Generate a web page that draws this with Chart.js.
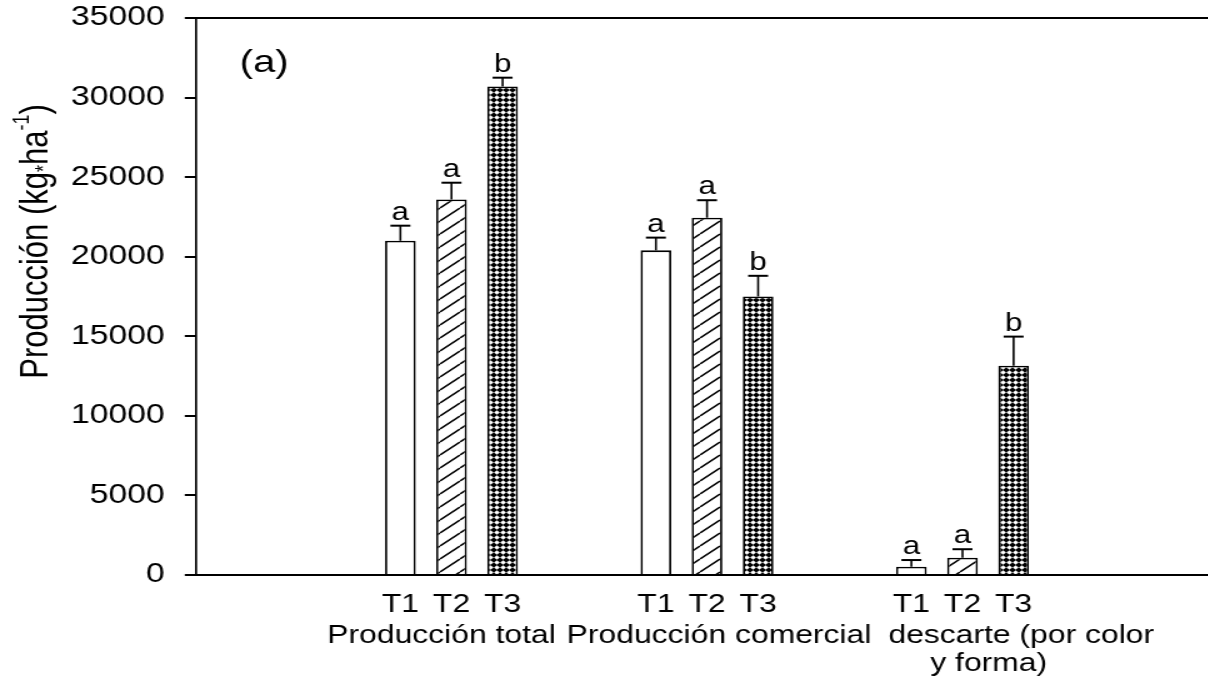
<!DOCTYPE html>
<html>
<head>
<meta charset="utf-8">
<script src="https://cdn.jsdelivr.net/npm/chart.js@4.4.1/dist/chart.umd.min.js"></script>
<style>
  html, body { margin: 0; padding: 0; background: #fff; overflow: hidden; width: 1208px; height: 678px; }
  #wrap { position: absolute; left: 0; top: 0; width: 980px; height: 678px;
          transform: scaleX(1.25); transform-origin: 0 0; }
</style>
</head>
<body>
<div id="wrap"><canvas id="chart"></canvas></div>
<script>
// Groups on the x axis (empty slots pad both ends of the axis)
const categories = ['', 'Producción total', 'Producción comercial', ['descarte (por color', 'y forma)'], ''];
const treatments = ['T1', 'T2', 'T3'];

// Mean yield per treatment (kg/ha)
const t1Values = [null, 21000, 20400, 520, null];
const t2Values = [null, 23600, 22450, 1090, null];
const t3Values = [null, 30700, 17500, 13150, null];

// Standard error per treatment
const t1Errors = [null, 950, 800, 420, null];
const t2Errors = [null, 1050, 1100, 530, null];
const t3Errors = [null, 550, 1300, 1830, null];

// Significance letters
const t1Letters = [null, 'a', 'a', 'a', null];
const t2Letters = [null, 'a', 'a', 'a', null];
const t3Letters = [null, 'b', 'b', 'b', null];

const yTicks = [0, 5000, 10000, 15000, 20000, 25000, 30000, 35000];

const values = [t1Values, t2Values, t3Values];
const errors = [t1Errors, t2Errors, t3Errors];
const letters = [t1Letters, t2Letters, t3Letters];

const FONT = '"Liberation Sans", Arial, sans-serif';
Chart.defaults.font.family = FONT;
Chart.defaults.color = '#000';

// Fill for T2: single diagonal hatch
function diagonalHatch() {
  const w = 16, h = 13;
  const c = document.createElement('canvas');
  c.width = w; c.height = h;
  const g = c.getContext('2d');
  g.fillStyle = '#fff';
  g.fillRect(0, 0, w, h);
  g.strokeStyle = '#000';
  g.lineWidth = 1.5;
  g.beginPath();
  for (const dx of [-w, 0, w]) { g.moveTo(dx, h); g.lineTo(dx + w, 0); }
  g.stroke();
  return g.createPattern(c, 'repeat');
}

// Fill for T3: dense cross hatch (black with white diamonds)
function crossHatch() {
  const w = 5, h = 5;
  const c = document.createElement('canvas');
  c.width = w; c.height = h;
  const g = c.getContext('2d');
  g.fillStyle = '#000';
  g.fillRect(0, 0, w, h);
  g.fillStyle = '#fff';
  const cx = 2.5, cy = 2.5, r = 2.3;
  g.beginPath();
  g.moveTo(cx, cy - r); g.lineTo(cx + r, cy); g.lineTo(cx, cy + r); g.lineTo(cx - r, cy);
  g.closePath();
  g.fill();
  return g.createPattern(c, 'repeat');
}

const fills = ['#fff', diagonalHatch(), crossHatch()];

// Error bars, letters, treatment labels, group labels, axis title and frame
const annotations = {
  id: 'annotations',
  afterDatasetsDraw(chart) {
    const ctx = chart.ctx;
    const ys = chart.scales.y;
    const xs = chart.scales.x;
    const area = chart.chartArea;
    ctx.save();
    ctx.strokeStyle = '#000';
    ctx.fillStyle = '#000';

    chart.data.datasets.forEach((ds, i) => {
      const meta = chart.getDatasetMeta(i);
      meta.data.forEach((bar, j) => {
        const v = ds.data[j];
        if (v == null) return;
        const top = ys.getPixelForValue(v + errors[i][j]);
        ctx.lineWidth = 1.6;
        ctx.beginPath();
        ctx.moveTo(bar.x, bar.y);
        ctx.lineTo(bar.x, top);
        ctx.stroke();
        ctx.lineWidth = 2;
        ctx.beginPath();
        ctx.moveTo(bar.x - 8, top);
        ctx.lineTo(bar.x + 8, top);
        ctx.stroke();
        ctx.font = '25px ' + FONT;
        ctx.textAlign = 'center';
        ctx.textBaseline = 'alphabetic';
        ctx.fillText(letters[i][j], bar.x, top - 6);
        ctx.font = '25.5px ' + FONT;
        ctx.fillText(treatments[i], bar.x, area.bottom + 37);
      });
    });

    // group names under each group of bars
    const shifts = [null, [-8], [9.6], [47, 21]];
    ctx.font = '25.5px ' + FONT;
    ctx.textAlign = 'center';
    categories.forEach((label, k) => {
      if (!label || (Array.isArray(label) && !label.length)) return;
      const lines = Array.isArray(label) ? label : [label];
      const cx = xs.getPixelForValue(k);
      lines.forEach((line, n) => {
        ctx.fillText(line, cx + shifts[k][n], area.bottom + 68 + n * 28);
      });
    });

    // top frame line
    ctx.lineWidth = 2;
    ctx.beginPath();
    ctx.moveTo(area.left, area.top);
    ctx.lineTo(area.right, area.top);
    ctx.stroke();

    // panel tag
    ctx.font = '32px ' + FONT;
    ctx.textAlign = 'left';
    ctx.fillText('(a)', area.left + 35, area.top + 54);

    // rotated y axis title with superscript
    ctx.translate(29, (area.top + area.bottom) / 2 - 55);
    ctx.rotate(-Math.PI / 2);
    ctx.textBaseline = 'middle';
    const big = 31, small = 18;
    const parts = [
      { t: 'Producción (kg', s: big, dy: 0 },
      { t: '*', s: small, dy: 7 },
      { t: 'ha', s: big, dy: 0 },
      { t: '-1', s: small, dy: -11 },
      { t: ')', s: big, dy: 0 }
    ];
    let total = 0;
    parts.forEach(p => { ctx.font = p.s + 'px ' + FONT; p.w = ctx.measureText(p.t).width; total += p.w; });
    let x = -total / 2;
    ctx.textAlign = 'left';
    parts.forEach(p => {
      ctx.font = p.s + 'px ' + FONT;
      ctx.fillText(p.t, x, p.dy);
      x += p.w;
    });
    ctx.restore();
  }
};

new Chart(document.getElementById('chart'), {
  type: 'bar',
  data: {
    labels: categories,
    datasets: treatments.map((name, i) => ({
      label: name,
      data: values[i],
      backgroundColor: fills[i],
      borderColor: '#000',
      borderWidth: 1.8,
      categoryPercentage: 0.6,
      barPercentage: 0.6
    }))
  },
  options: {
    responsive: true,
    maintainAspectRatio: false,
    animation: false,
    layout: { padding: { top: 18, right: 5.6, left: 0, bottom: 0 } },
    plugins: { legend: { display: false }, tooltip: { enabled: false } },
    scales: {
      x: {
        type: 'category',
        offset: false,
        grid: { display: false },
        border: { display: true, color: '#000', width: 2 },
        ticks: { display: false },
        afterFit: s => { s.height = 103; }
      },
      y: {
        min: 0,
        max: 35000,
        afterBuildTicks: s => { s.ticks = yTicks.map(v => ({ value: v })); },
        ticks: { color: '#000', font: { size: 27 }, padding: 16, callback: v => String(v) },
        grid: { drawOnChartArea: false, drawTicks: true, tickLength: 9, color: '#000', lineWidth: 2 },
        border: { display: true, color: '#000', width: 1.7 },
        afterFit: s => { s.width = 156.8; s.paddingTop = 0; s.paddingBottom = 0; }
      }
    }
  },
  plugins: [annotations]
});
</script>
</body>
</html>
